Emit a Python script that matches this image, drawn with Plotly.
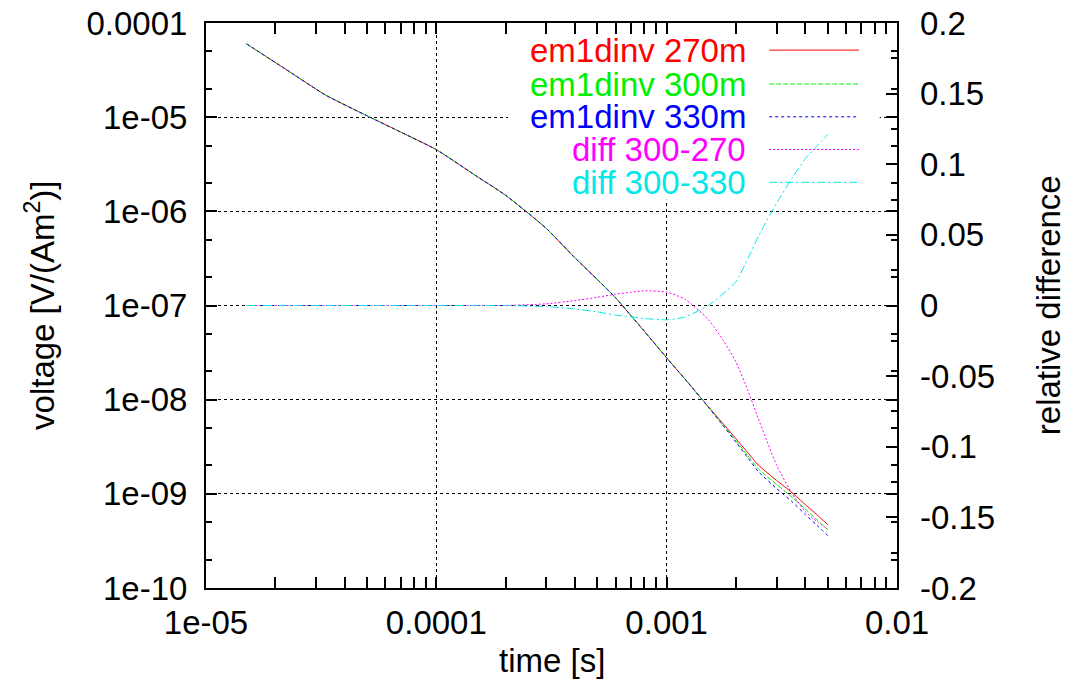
import plotly.graph_objects as go

# ---- data ----
time_s = [1.5e-5, 2.2e-5, 3.3e-5, 5e-5, 7e-5, 1e-4, 1.5e-4, 2e-4, 3e-4, 4e-4, 5e-4, 6e-4,
          7e-4, 8e-4, 1e-3, 1.2e-3, 1.5e-3, 1.75e-3, 2e-3, 2.25e-3, 2.5e-3, 3e-3, 3.5e-3,
          4e-3, 4.5e-3, 5e-3]

v_270 = [6.0e-5, 3.27e-5, 1.72e-5, 1.035e-5, 6.95e-6, 4.52e-6, 2.35e-6, 1.48e-6, 6.6e-7,
         3.2e-7, 1.89e-7, 1.21e-7, 7.8e-8, 5.33e-8, 2.78e-8, 1.66e-8, 8.69e-9, 5.64e-9,
         3.84e-9, 2.74e-9, 2.02e-9, 1.39e-9, 1.03e-9, 7.68e-10, 5.97e-10, 4.72e-10]

v_300 = [6.0e-5, 3.27e-5, 1.72e-5, 1.035e-5, 6.95e-6, 4.52e-6, 2.35e-6, 1.48e-6, 6.6e-7,
         3.2e-7, 1.89e-7, 1.21e-7, 7.8e-8, 5.33e-8, 2.78e-8, 1.66e-8, 8.65e-9, 5.50e-9,
         3.66e-9, 2.55e-9, 1.85e-9, 1.26e-9, 9.23e-10, 6.88e-10, 5.28e-10, 4.18e-10]

v_330 = [6.0e-5, 3.27e-5, 1.72e-5, 1.035e-5, 6.95e-6, 4.52e-6, 2.35e-6, 1.48e-6, 6.6e-7,
         3.2e-7, 1.89e-7, 1.21e-7, 7.8e-8, 5.33e-8, 2.78e-8, 1.66e-8, 8.59e-9, 5.37e-9,
         3.53e-9, 2.42e-9, 1.72e-9, 1.14e-9, 8.26e-10, 6.01e-10, 4.62e-10, 3.61e-10]

diff_300_270 = [0, 0, 0, 0, 0, 0, 0, 0, 0.0012, 0.0035, 0.0058, 0.0080, 0.0094, 0.0104,
                0.0095, 0.0045, -0.009, -0.024, -0.040, -0.060, -0.080, -0.113, -0.133,
                -0.146, -0.153, -0.158]

diff_300_330 = [0, 0, 0, 0, 0, 0, 0, 0, -0.0008, -0.0024, -0.0045, -0.0068, -0.0080, -0.0092,
                -0.0101, -0.0082, -0.0005, 0.008, 0.017, 0.033, 0.049, 0.0725, 0.090,
                0.104, 0.113, 0.121]

series_names = ["em1dinv 270m", "em1dinv 300m", "em1dinv 330m", "diff 300-270", "diff 300-330"]
series_colors = ["#ff0000", "#00f000", "#0000ff", "#ff00ff", "#00e8e8"]
series_dash = ["solid", "5px,2px", "3px,3px", "2px,2px", "8px,3px,2px,3px"]

x_tickvals = [1e-5, 1e-4, 1e-3, 1e-2]
x_ticktext = ["1e-05", "0.0001", "0.001", "0.01"]
y_tickvals = [1e-10, 1e-9, 1e-8, 1e-7, 1e-6, 1e-5, 1e-4]
y_ticktext = ["1e-10", "1e-09", "1e-08", "1e-07", "1e-06", "1e-05", "0.0001"]
y2_tickvals = [-0.2, -0.15, -0.1, -0.05, 0, 0.05, 0.1, 0.15, 0.2]
y2_ticktext = ["-0.2", "-0.15", "-0.1", "-0.05", "0", "0.05", "0.1", "0.15", "0.2"]

X_LOG_RANGE = [-5, -2]
Y_LOG_RANGE = [-10, -4]
Y2_RANGE = [-0.2, 0.2]

FONT = "Liberation Sans, Arial, sans-serif"
FS = 33

fig = go.Figure()


def fx(f):  # fraction of plot width -> x data value (log axis)
    return 10 ** (X_LOG_RANGE[0] + f * (X_LOG_RANGE[1] - X_LOG_RANGE[0]))


def fy(f):  # fraction of plot height -> y data value (log axis)
    return 10 ** (Y_LOG_RANGE[0] + f * (Y_LOG_RANGE[1] - Y_LOG_RANGE[0]))


# white key backdrop (drawn first: above grid lines, below the curves)
kx0, kx1, ky0, ky1 = fx(0.437), fx(0.975), fy(0.687), fy(0.997)
fig.add_trace(go.Scatter(x=[kx0, kx1, kx1, kx0, kx0], y=[ky0, ky0, ky1, ky1, ky0],
                         mode="lines", fill="toself", fillcolor="white",
                         line=dict(width=0, color="white"), hoverinfo="skip",
                         showlegend=False))

ys = [v_270, v_300, v_330, diff_300_270, diff_300_330]
axes = ["y", "y", "y", "y2", "y2"]
for name, yv, col, dash, ax in zip(series_names, ys, series_colors, series_dash, axes):
    fig.add_trace(go.Scatter(x=time_s, y=yv, name=name, mode="lines", yaxis=ax,
                             line=dict(color=col, width=1, dash=dash, shape="spline",
                                       smoothing=0.5),
                             showlegend=False))

fig.update_layout(
    width=1075, height=689,
    margin=dict(l=206, r=178, t=23, b=101),
    paper_bgcolor="white", plot_bgcolor="white",
    font=dict(family=FONT, size=FS, color="black"),
    xaxis=dict(type="log", range=X_LOG_RANGE, tickmode="array", tickvals=x_tickvals,
               ticktext=x_ticktext, ticks="inside", ticklen=11, tickwidth=2,
               tickcolor="black", showline=True, linecolor="black", linewidth=2,
               mirror="allticks", showgrid=True, gridcolor="black", griddash="dot",
               gridwidth=1, zeroline=False, ticklabelstandoff=4, automargin=False,
               minor=dict(ticks="inside", ticklen=6, tickwidth=1.5, tickcolor="black",
                          dtick="D1", showgrid=False)),
    yaxis=dict(type="log", range=Y_LOG_RANGE, tickmode="array", tickvals=y_tickvals,
               ticktext=y_ticktext, ticks="inside", ticklen=11, tickwidth=2,
               tickcolor="black", showline=True, linecolor="black", linewidth=2,
               mirror="allticks", showgrid=True, gridcolor="black", griddash="dot",
               gridwidth=1, zeroline=False, ticklabelstandoff=10, automargin=False,
               minor=dict(ticks="inside", ticklen=6, tickwidth=1.5, tickcolor="black",
                          dtick="D2", showgrid=False)),
    yaxis2=dict(overlaying="y", side="right", range=Y2_RANGE, tickmode="array",
                tickvals=y2_tickvals, ticktext=y2_ticktext, ticks="inside", ticklen=11,
                tickwidth=2, tickcolor="black", showgrid=False, zeroline=False,
                showline=False, ticklabelstandoff=22, automargin=False,
                minor=dict(ticks="inside", ticklen=6, tickwidth=1.5, tickcolor="black",
                           dtick=0.025)),
)

row_y = [0.952, 0.892, 0.834, 0.776, 0.718]
for name, col, dash, ry in zip(series_names, series_colors, series_dash, row_y):
    fig.add_annotation(xref="paper", yref="paper", x=0.784, y=ry, text=name,
                       showarrow=False, xanchor="right", yanchor="middle",
                       font=dict(family=FONT, size=FS, color=col))
    fig.add_shape(type="line", xref="paper", yref="paper", x0=0.815, x1=0.945, y0=ry, y1=ry,
                  line=dict(color=col, width=1, dash=dash))

# axis titles
fig.add_annotation(xref="paper", yref="paper", x=0.5, y=-0.128, yanchor="middle",
                   text="time [s]", showarrow=False, font=dict(family=FONT, size=FS))
fig.add_annotation(xref="paper", yref="paper", x=-0.241, y=0.5, xanchor="center",
                   text="voltage [V/(Am<sup>2</sup>)]", textangle=-90, showarrow=False,
                   font=dict(family=FONT, size=FS))
fig.add_annotation(xref="paper", yref="paper", x=1.2195, y=0.5, xanchor="center",
                   text="relative difference", textangle=-90, showarrow=False,
                   font=dict(family=FONT, size=FS))

fig.write_html("out.html")
